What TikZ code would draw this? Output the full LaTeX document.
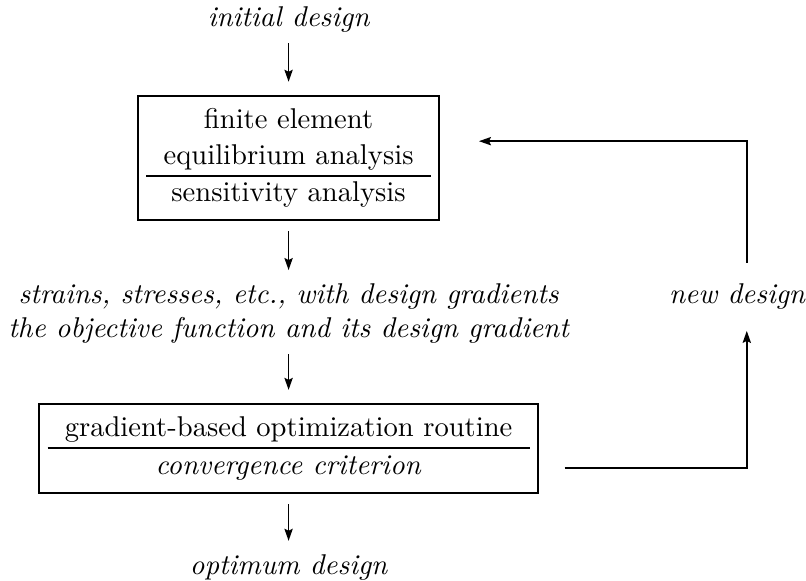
\documentclass[tikz,border=0pt]{standalone}
\usepackage{tikz}
\usetikzlibrary{arrows.meta, positioning, calc}
\renewcommand{\arraystretch}{1.03}
\setlength{\arrayrulewidth}{0.7pt}
\tikzset{
  stagebox/.style={
    draw, rectangle, line width=0.75pt, inner sep=2.9pt, align=center
  },
  flowtext/.style={
    font=\itshape, align=center, inner sep=0pt
  },
  flowarr/.style={
    -{Stealth[length=4.2pt, width=2.9pt, inset=0.7pt]}, line width=0.55pt,
    shorten <=3.5pt, shorten >=4.5pt
  },
  looparr/.style={
    -{Stealth[length=4.2pt, width=2.9pt, inset=0.7pt]}, line width=0.55pt
  },
}

\begin{document}
\begin{tikzpicture}[node distance=21.5pt]
\useasboundingbox (-100.9pt,0pt) rectangle (180.9pt,-203.1pt);

% -- Nodes --------------------------------------------------------------
\node[flowtext] (init) at (0,-6.9pt) {initial design};

\node[stagebox, below=of init] (fea) {%
  \begin{tabular}{c}
    finite element\\
    equilibrium analysis\\ \hline
    sensitivity analysis
  \end{tabular}};

\node[flowtext, below=of fea] (resp)
  {strains, stresses, etc., with design gradients\\
   the objective function and its design gradient};

\node[stagebox, below=20.5pt of resp] (opt) {%
  \begin{tabular}{c}
    gradient-based optimization routine\\ \hline
    \textit{convergence criterion}
  \end{tabular}};

\node[flowtext, below=20.8pt of opt] (optimum) {optimum design};

\node[flowtext] (newd) at (156.8pt,-103.5pt) {new design};

% free ends of the design loop
\coordinate (loopout) at ([xshift=9pt, yshift=-6.8pt]opt.east);
\coordinate (loopin)  at ([xshift=13.6pt, yshift=5.9pt]fea.east);

% -- Main flow ----------------------------------------------------------
\draw[flowarr] (init) -- (fea);
\draw[flowarr] (fea) -- (resp);
\draw[flowarr] (resp) -- (opt);
\draw[flowarr] (opt) -- (optimum);

% -- Design loop --------------------------------------------------------
\draw[looparr, shorten >=7.5pt] (loopout) -| ([xshift=3.4pt]newd.south);
\draw[looparr] ([xshift=3.4pt, yshift=7pt]newd.north) |- (loopin);

\end{tikzpicture}
\end{document}
